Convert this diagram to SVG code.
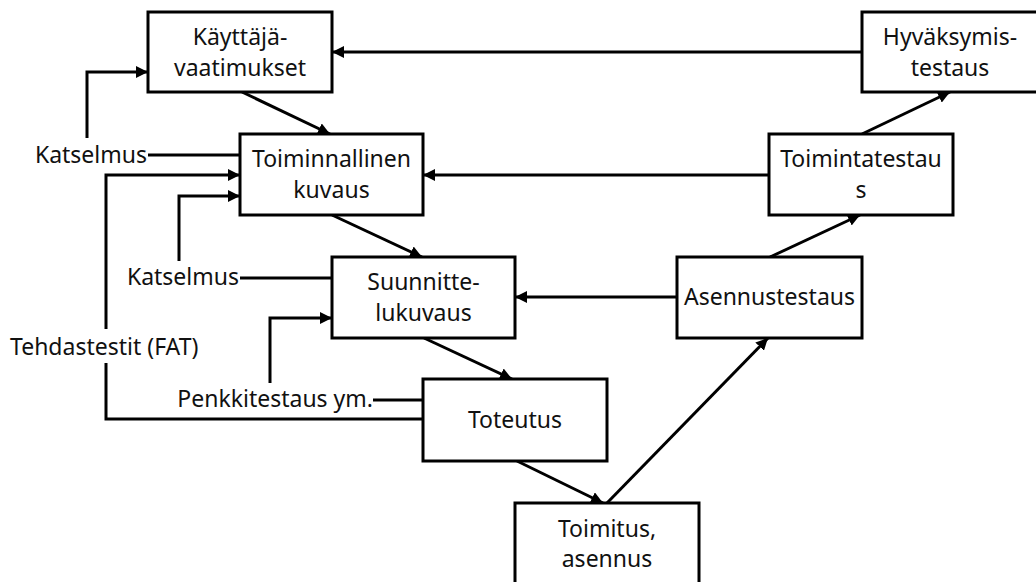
<svg xmlns="http://www.w3.org/2000/svg" width="1036" height="582" viewBox="0 0 1036 582">
  <style>
    .box { fill: #ffffff; stroke: #000000; stroke-width: 3; }
    .lbl { font-family: "Noto Sans", "Open Sans", "DejaVu Sans", sans-serif; font-size: 23px; fill: #111111; }
    .mid { text-anchor: middle; }
    .end { text-anchor: end; }
    .wire { fill: none; stroke: #000000; stroke-width: 3; }
    .arrow { fill: none; stroke: #000000; stroke-width: 3; marker-end: url(#head); }
  </style>
  <defs>
    <marker id="head" markerUnits="userSpaceOnUse" markerWidth="13" markerHeight="12" refX="12" refY="6" orient="auto">
      <path d="M0,0 L12,6 L0,12 z" fill="#000000"/>
    </marker>
  </defs>

  <rect width="1036" height="582" fill="#ffffff"/>

  <!-- connectors -->
  <g id="connectors">
    <!-- main V flow -->
    <line class="arrow" x1="242" y1="92" x2="330" y2="134"/>
    <line class="arrow" x1="332" y1="215" x2="422" y2="257"/>
    <line class="arrow" x1="424" y1="338" x2="512" y2="379"/>
    <line class="arrow" x1="517" y1="461" x2="603" y2="503"/>
    <line class="arrow" x1="607" y1="503" x2="768" y2="338"/>
    <line class="arrow" x1="770" y1="257" x2="860" y2="215"/>
    <line class="arrow" x1="862" y1="134" x2="950" y2="92"/>

    <!-- verification feedback -->
    <line class="arrow" x1="862" y1="52" x2="332" y2="52"/>
    <line class="arrow" x1="769" y1="175" x2="423" y2="175"/>
    <line class="arrow" x1="677" y1="297" x2="515" y2="297"/>

    <!-- reviews and tests on the left -->
    <line class="wire" x1="148" y1="155" x2="240" y2="155"/>
    <polyline class="arrow" points="87,138 87,72 148,72"/>

    <line class="wire" x1="240" y1="278" x2="332" y2="278"/>
    <polyline class="arrow" points="179,261 179,196 240,196"/>

    <line class="wire" x1="373" y1="400" x2="423" y2="400"/>
    <polyline class="arrow" points="270,383 270,318 332,318"/>

    <polyline class="arrow" points="106,329 106,175 240,175"/>
    <polyline class="wire" points="106,363 106,419 423,419"/>
  </g>

  <!-- side labels -->
  <g id="labels">
    <text class="lbl end" x="147" y="163">Katselmus</text>
    <text class="lbl end" x="239" y="285">Katselmus</text>
    <text class="lbl end" x="373" y="407">Penkkitestaus ym.</text>
    <text class="lbl" x="10" y="355">Tehdastestit (FAT)</text>
  </g>

  <g id="kayttajavaatimukset">
    <rect class="box" x="148" y="12" width="184" height="80"/>
    <text class="lbl mid" x="240" y="45">Käyttäjä-</text>
    <text class="lbl mid" x="240" y="76">vaatimukset</text>
  </g>

  <g id="toiminnallinen-kuvaus">
    <rect class="box" x="240" y="134" width="183" height="81"/>
    <text class="lbl mid" x="331.5" y="167">Toiminnallinen</text>
    <text class="lbl mid" x="331.5" y="198">kuvaus</text>
  </g>

  <g id="suunnittelukuvaus">
    <rect class="box" x="332" y="257" width="183" height="81"/>
    <text class="lbl mid" x="423.5" y="290">Suunnitte-</text>
    <text class="lbl mid" x="423.5" y="321">lukuvaus</text>
  </g>

  <g id="toteutus">
    <rect class="box" x="423" y="379" width="184" height="82"/>
    <text class="lbl mid" x="515" y="428">Toteutus</text>
  </g>

  <g id="toimitus-asennus">
    <rect class="box" x="515" y="503" width="184" height="90"/>
    <text class="lbl mid" x="607" y="537">Toimitus,</text>
    <text class="lbl mid" x="607" y="567">asennus</text>
  </g>

  <g id="asennustestaus">
    <rect class="box" x="677" y="257" width="185" height="81"/>
    <text class="lbl mid" x="769.5" y="305">Asennustestaus</text>
  </g>

  <g id="toimintatestaus">
    <rect class="box" x="769" y="134" width="184" height="81"/>
    <text class="lbl mid" x="861" y="167">Toimintatestau</text>
    <text class="lbl mid" x="861" y="198">s</text>
  </g>

  <g id="hyvaksymistestaus">
    <rect class="box" x="862" y="12" width="176" height="80"/>
    <text class="lbl mid" x="950" y="45">Hyväksymis-</text>
    <text class="lbl mid" x="950" y="76">testaus</text>
  </g>
</svg>
